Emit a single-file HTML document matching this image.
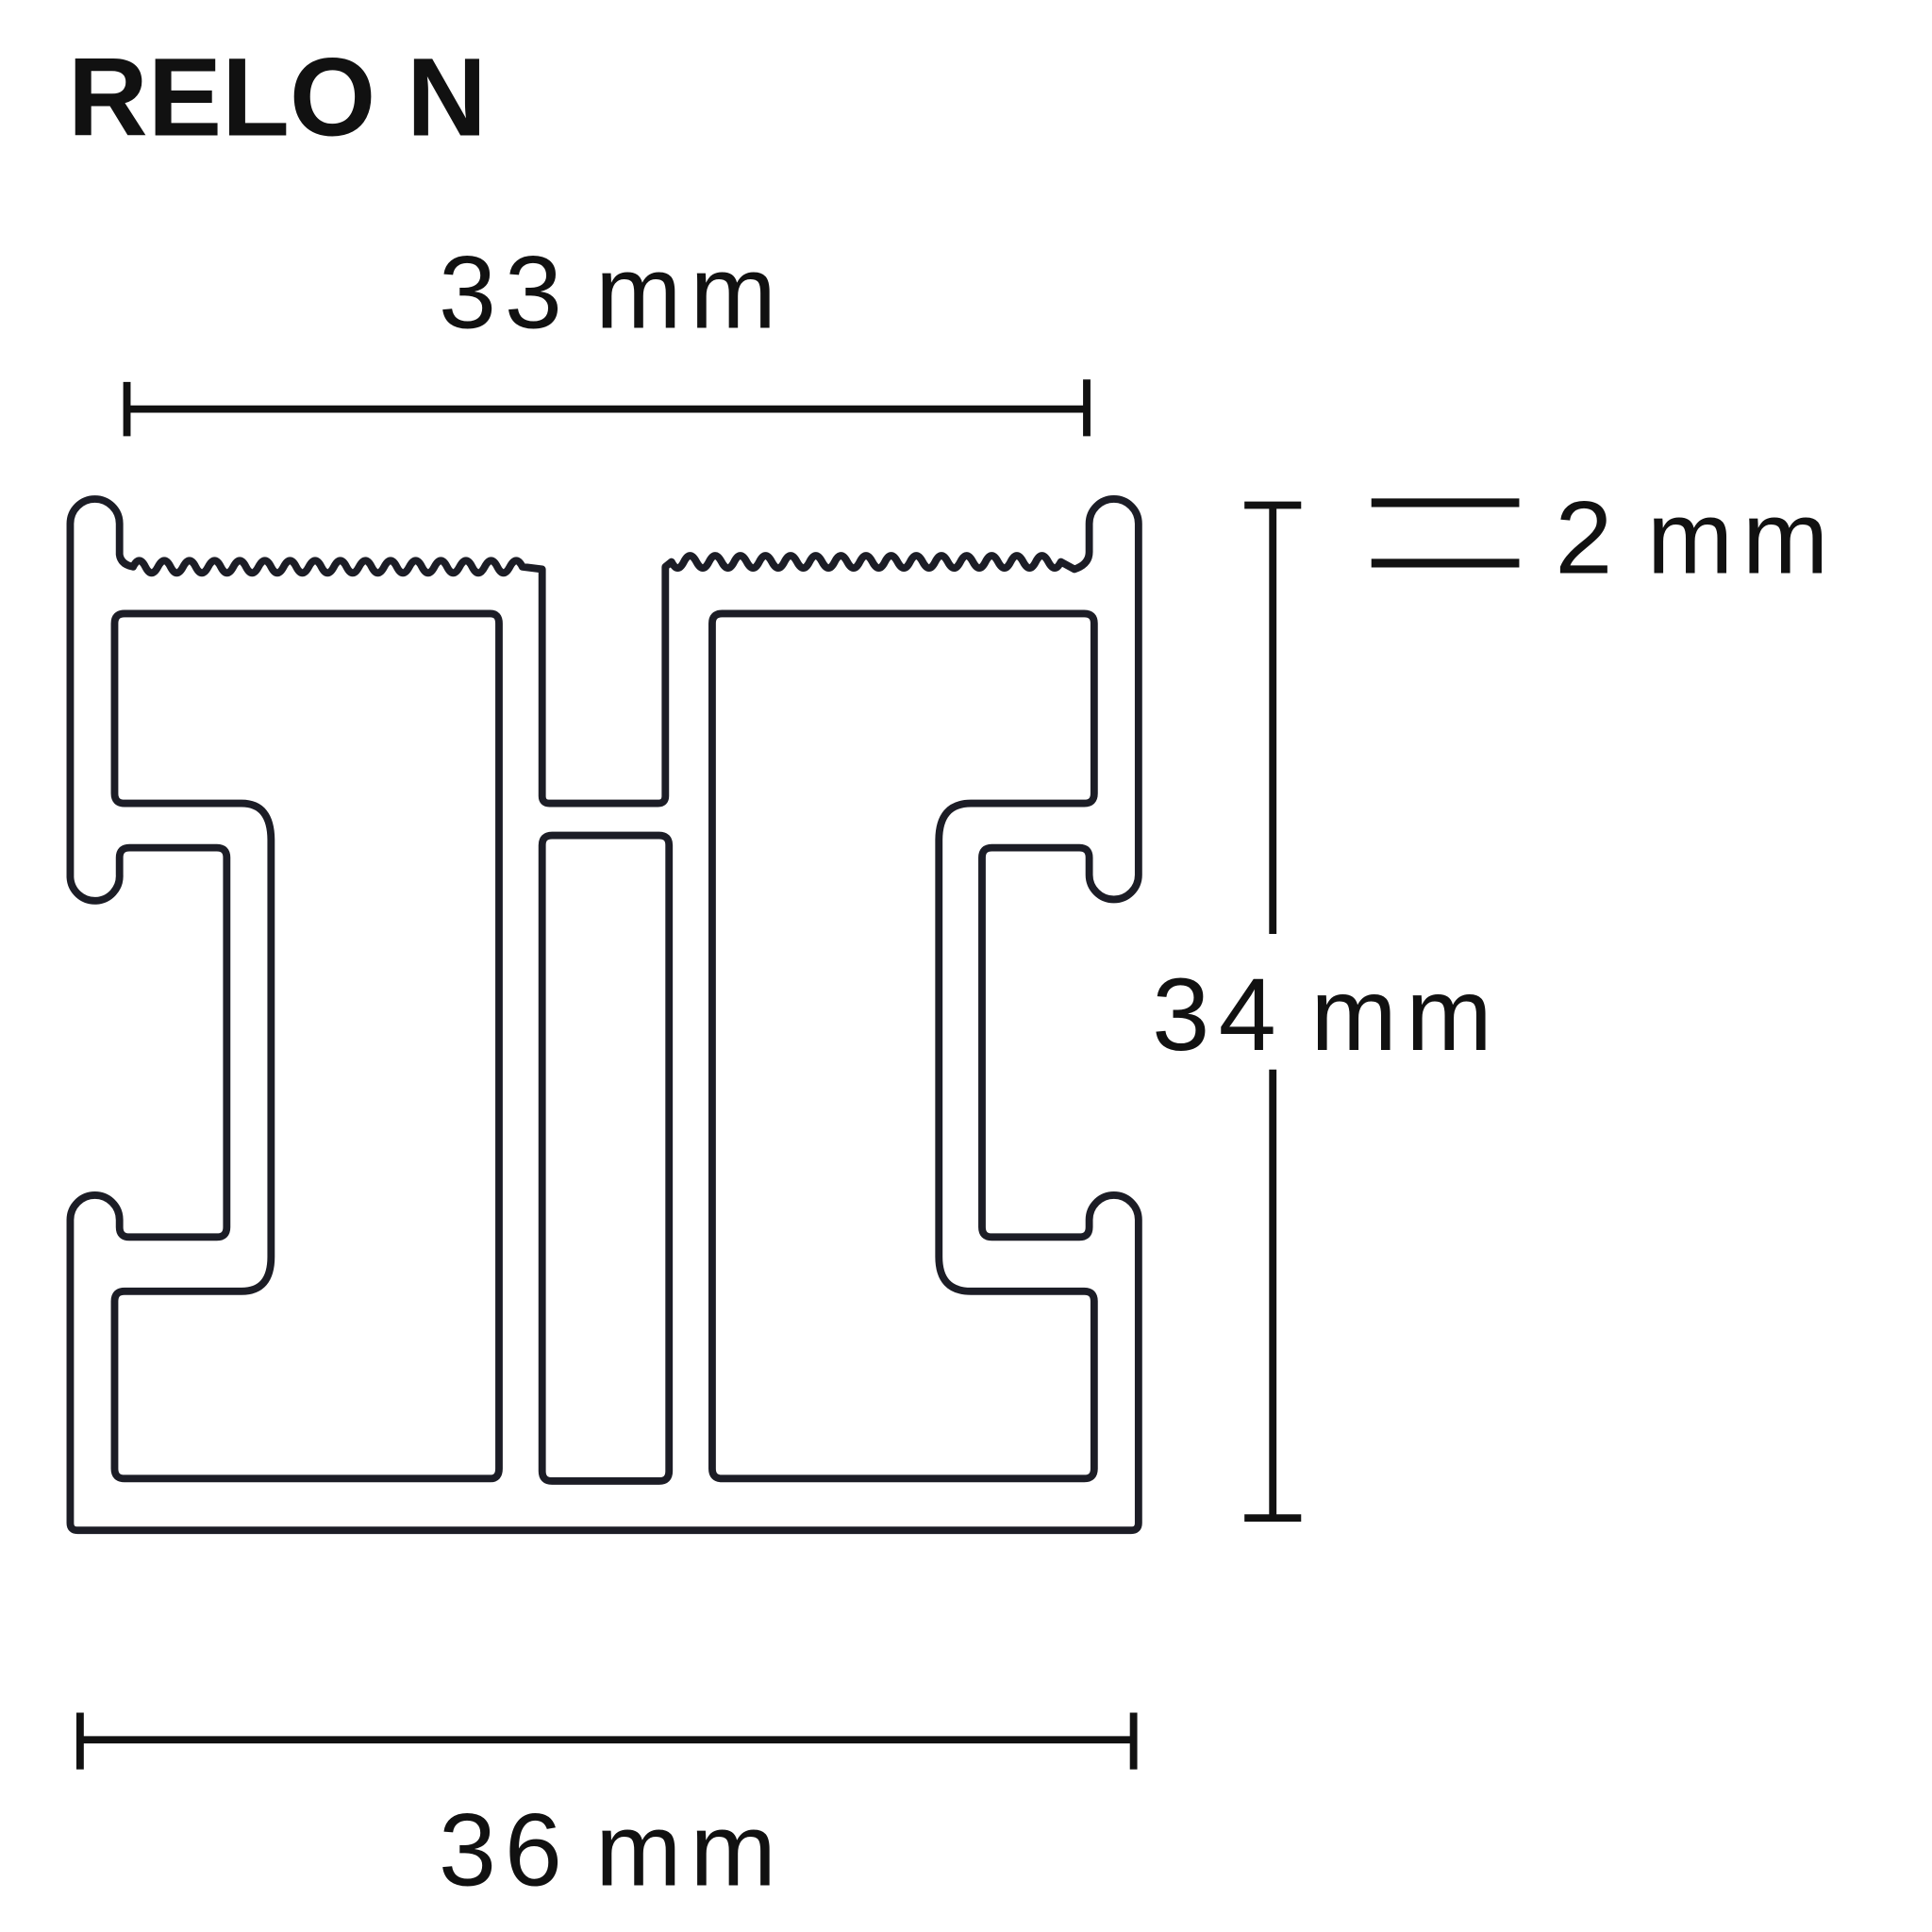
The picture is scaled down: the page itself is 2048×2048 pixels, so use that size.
<!DOCTYPE html>
<html><head><meta charset="utf-8"><style>
html,body{margin:0;padding:0;background:#fff;}
svg{display:block;}
text{font-family:"Liberation Sans",sans-serif;fill:#111;}
</style></head><body>
<svg width="2048" height="2048" viewBox="0 0 1568 1568" xmlns="http://www.w3.org/2000/svg">
<rect width="1568" height="1568" fill="#fff"/>
<text x="55" y="110" font-size="90" font-weight="bold">RELO N</text>
<text x="356" y="266" font-size="84" word-spacing="-10" textLength="274" lengthAdjust="spacing">33 mm</text>
<text x="356" y="1530" font-size="84" word-spacing="-10" textLength="274" lengthAdjust="spacing">36 mm</text>
<text x="935" y="852" font-size="84" word-spacing="-10" textLength="276" lengthAdjust="spacing">34 mm</text>
<text x="1262" y="465" font-size="84" word-spacing="-10" textLength="222" lengthAdjust="spacing">2 mm</text>
<g stroke="#111" stroke-width="6" fill="none">
<path d="M103,332 H882 M103,310 V354 M882,308 V354"/>
<path d="M65,1412 H920 M65,1390 V1436 M920,1390 V1436"/>
<path d="M1033,410 V758 M1033,868 V1232 M1010,410 H1056 M1010,1232 H1056"/>
<path d="M1113,408 H1233 M1113,457 H1233" stroke-width="7"/>
</g>
<g stroke="#1c1d26" stroke-width="6" fill="none" stroke-linejoin="round">
<path d="M57,712 V425 A20,20 0 0 1 97,425 V450 Q98,458 108,460 q5,-10 10,0 t10.2,0 t10.2,0 t10.2,0 t10.2,0 t10.2,0 t10.2,0 t10.2,0 t10.2,0 t10.2,0 t10.2,0 t10.2,0 t10.2,0 t10.2,0 t10.2,0 t10.2,0 t10.2,0 t10.2,0 t10.2,0 t10.2,0 t10.2,0 t10.2,0 t10.2,0 t10.2,0 t10.2,0 t10.2,0 t10.2,0 t10.2,0 t10.2,0 t10.2,0 t10.2,0 L440,462 V646 Q440,652 446,652 H534 Q540,652 540,646 V460 L545,456 q5,10 10,0 t10.2,0 t10.2,0 t10.2,0 t10.2,0 t10.2,0 t10.2,0 t10.2,0 t10.2,0 t10.2,0 t10.2,0 t10.2,0 t10.2,0 t10.2,0 t10.2,0 t10.2,0 t10.2,0 t10.2,0 t10.2,0 t10.2,0 t10.2,0 t10.2,0 t10.2,0 t10.2,0 t10.2,0 t10.2,0 t10.2,0 t10.2,0 t10.2,0 t10.2,0 t10.2,0 L872,462 Q884,458 884,448 V425 A20,20 0 0 1 924,425 V710 A20,20 0 0 1 884,710 V696 Q884,688 876,688 H805 Q797,688 797,696 V996 Q797,1004 805,1004 H876 Q884,1004 884,996 V990 A20,20 0 0 1 924,990 V1236 Q924,1242 918,1242 H63 Q57,1242 57,1236 V990 A20,20 0 0 1 97,990 V996 Q97,1004 105,1004 H176 Q184,1004 184,996 V696 Q184,688 176,688 H105 Q97,688 97,696 V710 A20,20 0 0 1 57,712 Z"/>
<path d="M93,506 Q93,498 101,498 H398 Q405,498 405,506 V1192 Q405,1200 398,1200 H101 Q93,1200 93,1192 V1056 Q93,1048 101,1048 H196 Q220,1048 220,1020 V682 Q220,652 196,652 H101 Q93,652 93,644 Z"/>
<path d="M440,686 Q440,678 448,678 H535 Q543,678 543,686 V1194 Q543,1202 535,1202 H448 Q440,1202 440,1194 Z"/>
<path d="M578,506 Q578,498 586,498 H880 Q888,498 888,506 V644 Q888,652 880,652 H788 Q762,652 762,682 V1020 Q762,1048 788,1048 H880 Q888,1048 888,1056 V1192 Q888,1200 880,1200 H586 Q578,1200 578,1192 Z"/>
</g>
</svg>
</body></html>
